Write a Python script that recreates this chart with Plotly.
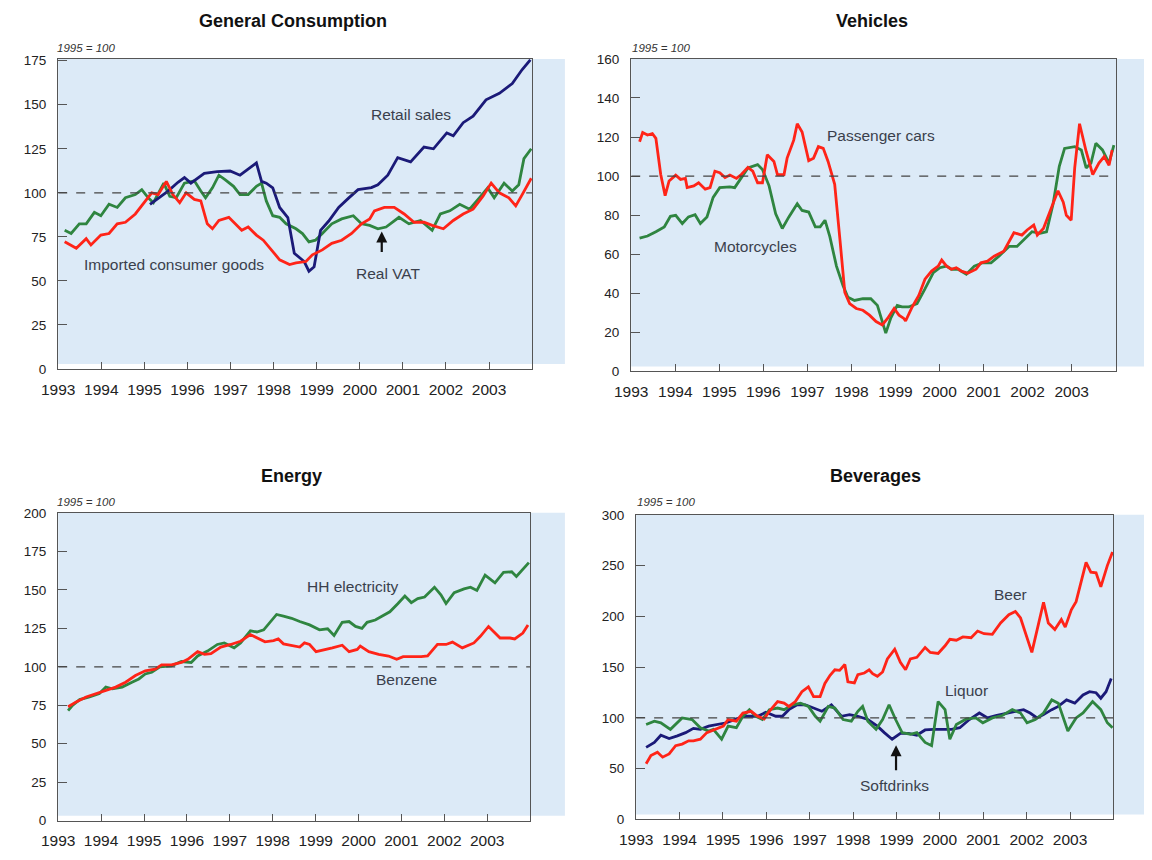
import plotly.graph_objects as go

# ---- data: (decimal year, index 1995 = 100) ----
retail_sales = [(1995.13, 93.5), (1995.32, 97), (1995.55, 101), (1995.78, 106), (1995.93, 108.7), (1996.08, 105.5),
                (1996.39, 111), (1996.69, 112), (1996.99, 112.4), (1997.22, 110), (1997.38, 113), (1997.60, 117),
                (1997.72, 106.5), (1997.83, 105.5), (1997.98, 102.8), (1998.14, 91.7), (1998.33, 86), (1998.48, 65.7),
                (1998.71, 61), (1998.82, 55.5), (1998.94, 58), (1999.09, 78.7), (1999.28, 84), (1999.51, 91.7),
                (1999.74, 97), (1999.96, 101.8), (2000.27, 103), (2000.42, 104.6), (2000.65, 110), (2000.88, 120),
                (2001.18, 117.6), (2001.49, 126), (2001.71, 125), (2002.02, 134), (2002.17, 132.4), (2002.40, 139.8),
                (2002.63, 143.5), (2002.93, 152.8), (2003.24, 156.5), (2003.54, 162), (2003.77, 170), (2003.96, 175.5)]

real_vat = [(1993.15, 78.7), (1993.30, 76.9), (1993.49, 82.4), (1993.65, 82.4), (1993.84, 88.9), (1993.99, 87),
            (1994.18, 93.5), (1994.37, 91.7), (1994.56, 97.2), (1994.79, 99), (1994.94, 101.8), (1995.09, 97.2),
            (1995.21, 94.4), (1995.36, 101), (1995.45, 105.5), (1995.59, 98), (1995.74, 97.2), (1995.93, 105.5),
            (1996.16, 106.8), (1996.31, 101), (1996.42, 97.2), (1996.58, 102.8), (1996.73, 110), (1996.88, 107.4),
            (1997.07, 103.7), (1997.22, 99), (1997.41, 99), (1997.60, 103.7), (1997.72, 105.5), (1997.83, 95.4),
            (1997.98, 87), (1998.14, 86.1), (1998.29, 82.4), (1998.52, 79.6), (1998.67, 76.9), (1998.82, 72.2),
            (1998.97, 73.1), (1999.13, 76.9), (1999.35, 82.4), (1999.58, 85.2), (1999.85, 87), (2000.04, 82.4),
            (2000.23, 81.5), (2000.42, 79.6), (2000.61, 80.6), (2000.91, 86.1), (2001.14, 82.4), (2001.41, 84.3),
            (2001.68, 78.7), (2001.87, 88), (2002.09, 89.8), (2002.32, 93.5), (2002.55, 90.7), (2002.78, 97.2),
            (2002.97, 102.8), (2003.12, 97.2), (2003.35, 105.5), (2003.54, 101), (2003.69, 104.6), (2003.81, 119.4),
            (2003.98, 125)]

imported_goods = [(1993.15, 72.2), (1993.27, 70.4), (1993.42, 68.5), (1993.65, 74), (1993.76, 70.4), (1993.99, 76),
                  (1994.18, 76.9), (1994.37, 82.4), (1994.56, 83.3), (1994.79, 88), (1995.02, 95.4), (1995.17, 100),
                  (1995.32, 99), (1995.51, 106.5), (1995.66, 99), (1995.82, 94.4), (1995.97, 100), (1996.16, 96.3),
                  (1996.31, 95.4), (1996.46, 82.4), (1996.58, 79.6), (1996.73, 84.3), (1996.96, 86.1), (1997.11, 82.4),
                  (1997.26, 78.7), (1997.41, 80.6), (1997.60, 76), (1997.76, 73.1), (1997.91, 68.5), (1998.14, 62),
                  (1998.37, 59.3), (1998.52, 60.2), (1998.75, 61), (1998.90, 64.8), (1999.13, 67.6), (1999.35, 71.3),
                  (1999.58, 73.1), (1999.81, 76.9), (2000.04, 82.4), (2000.23, 85.2), (2000.34, 89.8), (2000.57, 91.7),
                  (2000.80, 91.7), (2001.03, 88), (2001.26, 83.3), (2001.49, 83.3), (2001.68, 81.5), (2001.94, 79.6),
                  (2002.17, 84.3), (2002.40, 88), (2002.63, 90.7), (2002.86, 98.1), (2003.05, 105.5), (2003.24, 100),
                  (2003.46, 97.2), (2003.62, 92.6), (2003.77, 99), (2003.98, 108.3)]

passenger_cars = [(1993.19, 117.6), (1993.26, 122.3), (1993.37, 121), (1993.48, 121.8), (1993.56, 119.3), (1993.67, 100.8),
                  (1993.77, 90), (1993.86, 97.5), (1994.01, 100.5), (1994.12, 98.3), (1994.23, 98.8), (1994.27, 94.1),
                  (1994.42, 95), (1994.53, 96.6), (1994.68, 93.3), (1994.79, 94.1), (1994.90, 102.5), (1995.01, 101.7),
                  (1995.13, 99.2), (1995.24, 100.5), (1995.39, 98.8), (1995.50, 100.8), (1995.65, 104.5), (1995.76, 102.5),
                  (1995.87, 96.6), (1995.98, 96.6), (1996.09, 110.9), (1996.24, 107.5), (1996.32, 100.8), (1996.47, 100.8),
                  (1996.54, 109.2), (1996.69, 118.4), (1996.77, 126.8), (1996.88, 122.6), (1997.03, 107.9), (1997.14, 109.2),
                  (1997.25, 115.1), (1997.36, 114.2), (1997.47, 107.5), (1997.62, 95.8), (1997.74, 67.3), (1997.85, 40.5),
                  (1997.96, 34.7), (1998.11, 32.2), (1998.26, 31.3), (1998.41, 28.8), (1998.56, 25.5), (1998.70, 23.8),
                  (1998.82, 27.1), (1998.97, 32.2), (1999.08, 28.8), (1999.19, 27.1), (1999.23, 25.8), (1999.38, 33),
                  (1999.53, 38.9), (1999.67, 47.2), (1999.82, 51.4), (1999.97, 53.9), (2000.05, 57), (2000.16, 53.9),
                  (2000.27, 52.3), (2000.38, 53.1), (2000.49, 51.4), (2000.64, 50.3), (2000.83, 52.3), (2000.94, 55.6),
                  (2001.09, 56.4), (2001.24, 59), (2001.46, 61.5), (2001.58, 66.5), (2001.69, 71), (2001.87, 69.8),
                  (2001.99, 72.4), (2002.14, 74.9), (2002.22, 69.8), (2002.36, 73.2), (2002.51, 81.6), (2002.69, 92.5),
                  (2002.81, 86.6), (2002.88, 79.9), (2002.99, 77.4), (2003.07, 104.2), (2003.18, 126.8), (2003.33, 112.6),
                  (2003.48, 100.8), (2003.62, 106.7), (2003.74, 110), (2003.85, 105.5), (2003.92, 113.4)]

motorcycles = [(1993.19, 68.2), (1993.37, 69.3), (1993.56, 71.5), (1993.75, 74), (1993.89, 79.4), (1994.01, 79.9),
               (1994.16, 75.7), (1994.30, 79.1), (1994.45, 80.2), (1994.57, 75.7), (1994.72, 79.1), (1994.86, 89.1),
               (1995.01, 94.1), (1995.24, 94.5), (1995.35, 94.1), (1995.50, 99.2), (1995.65, 104.2), (1995.87, 105.9),
               (1995.98, 103.4), (1996.13, 95), (1996.28, 80.7), (1996.43, 73.2), (1996.58, 79.1), (1996.77, 85.8),
               (1996.88, 82.4), (1997.03, 81.6), (1997.18, 74), (1997.29, 74), (1997.40, 77.4), (1997.51, 69),
               (1997.66, 53.9), (1997.81, 43.9), (1997.92, 38), (1998.07, 36.3), (1998.26, 37.2), (1998.44, 37.2),
               (1998.59, 33.8), (1998.78, 19.6), (1998.89, 27.1), (1999.04, 33.8), (1999.15, 33), (1999.30, 33),
               (1999.49, 34.7), (1999.67, 42.2), (1999.86, 50.6), (2000.01, 53.1), (2000.16, 53.9), (2000.27, 52.3),
               (2000.42, 52.3), (2000.61, 49.7), (2000.79, 53.9), (2000.98, 55.6), (2001.17, 55.6), (2001.35, 59),
               (2001.58, 64), (2001.76, 64), (2001.91, 67.3), (2002.10, 71.5), (2002.28, 70.7), (2002.43, 71.5),
               (2002.58, 85.8), (2002.72, 105), (2002.84, 114.2), (2003.07, 115.1), (2003.22, 113.4), (2003.33, 104.2),
               (2003.44, 106.7), (2003.55, 116.8), (2003.70, 113.4), (2003.85, 106.7), (2003.96, 115.9)]

hh_electricity = [(1993.23, 71.5), (1993.34, 75.1), (1993.50, 78.7), (1993.73, 80.4), (1993.96, 82.6), (1994.11, 86.8),
                  (1994.26, 85.7), (1994.49, 86.8), (1994.72, 90), (1994.88, 92.1), (1995.03, 95.3), (1995.18, 96.4),
                  (1995.37, 100), (1995.64, 100.6), (1995.87, 103.4), (1996.10, 102.8), (1996.25, 107), (1996.48, 110.2),
                  (1996.71, 114.5), (1996.87, 115.5), (1997.10, 112.3), (1997.25, 115.5), (1997.48, 123.4), (1997.63, 122.6),
                  (1997.79, 124), (1998.09, 134), (1998.25, 132.9), (1998.44, 131.5), (1998.63, 129.4), (1998.86, 127.2),
                  (1999.09, 124), (1999.28, 124.7), (1999.43, 120.4), (1999.62, 128.9), (1999.78, 129.4), (1999.93, 126.2),
                  (2000.08, 125), (2000.20, 128.9), (2000.39, 130.4), (2000.54, 132.6), (2000.73, 135.7), (2000.92, 141.1),
                  (2001.08, 146), (2001.23, 141.7), (2001.38, 144.3), (2001.54, 145.3), (2001.77, 151.7), (2001.92, 146.8),
                  (2002.04, 141.1), (2002.23, 148.1), (2002.46, 150.6), (2002.61, 151.7), (2002.76, 149.6), (2002.95, 159.6),
                  (2003.18, 154.5), (2003.38, 161.3), (2003.57, 161.7), (2003.68, 158.7), (2003.83, 163.4), (2003.97, 167.7)]

benzene = [(1993.23, 74), (1993.42, 77.2), (1993.65, 80.4), (1993.88, 82.6), (1994.11, 85.1), (1994.34, 86.8),
           (1994.57, 90), (1994.80, 94.3), (1995.03, 97.4), (1995.26, 98.5), (1995.41, 101.3), (1995.64, 101.3),
           (1995.87, 102.8), (1996.02, 104.9), (1996.25, 109.8), (1996.41, 108.1), (1996.56, 108.5), (1996.79, 112.8),
           (1997.02, 114.5), (1997.25, 116.6), (1997.48, 120.9), (1997.63, 118.7), (1997.82, 116.2), (1998.02, 117),
           (1998.13, 118.1), (1998.25, 114.9), (1998.44, 114), (1998.63, 112.8), (1998.74, 115.5), (1998.86, 114.5),
           (1999.01, 109.8), (1999.20, 111.3), (1999.39, 112.3), (1999.62, 114), (1999.78, 109.8), (1999.97, 111.3),
           (2000.04, 113.4), (2000.24, 109.8), (2000.47, 108.1), (2000.70, 107), (2000.89, 104.9), (2001.04, 106.6),
           (2001.23, 106.4), (2001.46, 106.6), (2001.61, 107), (2001.84, 114.5), (2002.04, 114.5), (2002.19, 116),
           (2002.42, 112.3), (2002.69, 115.5), (2002.84, 119.8), (2003.03, 126.2), (2003.30, 118.7), (2003.53, 118.7),
           (2003.64, 118.1), (2003.83, 121.9), (2003.95, 127.2)]

beer = [(1993.23, 54.8), (1993.34, 62.9), (1993.49, 66.1), (1993.61, 61.3), (1993.76, 64.5), (1993.91, 72.6),
        (1994.06, 74.2), (1994.21, 77.4), (1994.32, 77.4), (1994.48, 79), (1994.63, 85.5), (1994.82, 88.7),
        (1995.01, 91.9), (1995.12, 98.4), (1995.31, 96.8), (1995.46, 104.8), (1995.65, 106.5), (1995.80, 101.6),
        (1995.95, 99), (1996.07, 106.5), (1996.26, 116.1), (1996.41, 114.5), (1996.52, 111.3), (1996.67, 116.1),
        (1996.82, 125.8), (1996.97, 130.6), (1997.09, 121), (1997.24, 121), (1997.35, 133.9), (1997.47, 141.9),
        (1997.58, 147.4), (1997.69, 146.8), (1997.81, 152.6), (1997.88, 135.5), (1998.03, 134.5), (1998.11, 142.6),
        (1998.26, 144.2), (1998.37, 147.4), (1998.45, 143.5), (1998.56, 141), (1998.68, 145.2), (1998.79, 158.1),
        (1998.96, 167.7), (1999.09, 154.8), (1999.21, 147.4), (1999.32, 158.1), (1999.47, 159.7), (1999.66, 169.4),
        (1999.78, 164.5), (1999.96, 163.5), (2000.12, 171), (2000.23, 177.4), (2000.38, 176.5), (2000.53, 179.7),
        (2000.72, 179), (2000.87, 185.5), (2001.02, 182.9), (2001.21, 182.3), (2001.40, 193.5), (2001.59, 201.6),
        (2001.74, 204.8), (2001.86, 198.4), (2002.12, 164.5), (2002.27, 191.9), (2002.39, 213.9), (2002.50, 193.5),
        (2002.65, 187.1), (2002.80, 196.8), (2002.89, 189.4), (2003.03, 206.5), (2003.14, 214.5), (2003.37, 253.2),
        (2003.48, 243.5), (2003.60, 242.9), (2003.71, 229), (2003.86, 250), (2003.98, 263.5)]

liquor = [(1993.23, 71), (1993.42, 75.8), (1993.57, 82.9), (1993.76, 79.7), (1993.95, 82.3), (1994.14, 85.5),
          (1994.32, 89.7), (1994.48, 88.7), (1994.67, 91.9), (1994.85, 93.5), (1995.08, 95.2), (1995.31, 99),
          (1995.54, 101.6), (1995.80, 101.6), (1995.99, 105.5), (1996.22, 101.6), (1996.37, 101.6), (1996.52, 108.1),
          (1996.71, 112.9), (1996.90, 112.9), (1997.09, 109.7), (1997.28, 106.5), (1997.50, 112.9), (1997.73, 101.6),
          (1997.92, 103.2), (1998.11, 101.6), (1998.34, 98.4), (1998.56, 91.9), (1998.72, 85.5), (1998.90, 79),
          (1999.09, 84.8), (1999.28, 84.8), (1999.47, 82.9), (1999.66, 88.1), (1999.85, 88.7), (2000.08, 88.7),
          (2000.27, 88.7), (2000.46, 90.3), (2000.68, 98.4), (2000.91, 104.8), (2001.10, 100), (2001.29, 102.3),
          (2001.52, 104.8), (2001.74, 106.5), (2001.93, 108.1), (2002.08, 104.8), (2002.24, 100), (2002.39, 103.2),
          (2002.58, 108.1), (2002.73, 111.3), (2002.92, 117.7), (2003.11, 114.5), (2003.30, 122.6), (2003.45, 125.8),
          (2003.60, 124.8), (2003.71, 119.4), (2003.83, 125.8), (2003.95, 138.7)]

softdrinks = [(1993.23, 93.5), (1993.42, 96.8), (1993.57, 95.2), (1993.79, 88.7), (1994.06, 100), (1994.29, 98.4),
              (1994.48, 90.3), (1994.67, 87.1), (1994.78, 88.7), (1994.97, 79), (1995.12, 91.9), (1995.31, 90.3),
              (1995.46, 101.6), (1995.61, 108.1), (1995.76, 101.6), (1995.91, 98.4), (1996.07, 108.1), (1996.26, 109.7),
              (1996.41, 108.1), (1996.60, 112.9), (1996.79, 114.5), (1996.97, 111.3), (1997.13, 101.6), (1997.24, 96.8),
              (1997.43, 111.3), (1997.58, 109.7), (1997.77, 98.4), (1997.96, 96.8), (1998.11, 106.5), (1998.22, 111.3),
              (1998.34, 96.8), (1998.53, 88.7), (1998.68, 98.4), (1998.83, 112.9), (1998.98, 98.4), (1999.13, 85.5),
              (1999.32, 83.9), (1999.47, 85.5), (1999.66, 75.8), (1999.81, 72.6), (1999.96, 116.1), (2000.12, 108.1),
              (2000.23, 79), (2000.38, 93.5), (2000.61, 99), (2000.83, 100), (2000.99, 95.2), (2001.21, 100),
              (2001.44, 102.3), (2001.67, 108.1), (2001.86, 104.8), (2002.01, 95.2), (2002.20, 98.4), (2002.39, 104.8),
              (2002.58, 117.7), (2002.73, 114.5), (2002.95, 87.1), (2003.14, 100), (2003.30, 104.8), (2003.52, 116.1),
              (2003.71, 108.1), (2003.86, 95.2), (2003.98, 90.3)]

years = list(range(1993, 2004))

RED = '#ff2418'
GREEN = '#2f8540'
NAVY = '#1b1a78'
BLUE_BG = '#dceaf7'
FONT = 'Liberation Sans, Arial, sans-serif'
W, H = 1152, 860
OFF = 8  # page body margin, figure is drawn 8px right/down


def px_x(x):
    return (x - OFF) / W


def px_y(y):
    return 1 - (y - OFF) / H


# panel geometry in screen pixels: plot left/right, top/bottom, right edge of blue band
panels = [
    dict(title='General Consumption', tx=280, ty=14, lx=38, ly=42,
         px=(41.7, 522.7), py=(52.7, 368.3), ext=556, yrange=[0, 176], dtick=25,
         series=[(real_vat, GREEN), (retail_sales, NAVY), (imported_goods, RED)]),
    dict(title='Vehicles', tx=868, ty=14, lx=622, ly=42,
         px=(623.3, 1115), py=(52.7, 370.7), ext=1160, yrange=[0, 160], dtick=20,
         series=[(motorcycles, GREEN), (passenger_cars, RED)]),
    dict(title='Energy', tx=278, ty=477, lx=38, ly=504,
         px=(41.7, 520.7), py=(514.7, 828), ext=556, yrange=[0, 200], dtick=25,
         series=[(hh_electricity, GREEN), (benzene, RED)]),
    dict(title='Beverages', tx=871, ty=477, lx=627, ly=504,
         px=(628.3, 1112.7), py=(516.7, 826.7), ext=1160, yrange=[0, 300], dtick=50,
         series=[(liquor, NAVY), (softdrinks, GREEN), (beer, RED)]),
]

fig = go.Figure()
shapes = []
annotations = []

for i, p in enumerate(panels, start=1):
    sfx = '' if i == 1 else str(i)
    xd = [px_x(p['px'][0]), px_x(p['px'][1])]
    yd = [px_y(p['py'][1]), px_y(p['py'][0])]
    for data, color in p['series']:
        fig.add_trace(go.Scatter(
            x=[d[0] for d in data], y=[d[1] for d in data],
            mode='lines', line=dict(color=color, width=2.8),
            xaxis='x' + sfx, yaxis='y' + sfx, showlegend=False, hoverinfo='skip'))
    fig.update_layout(**{
        'xaxis' + sfx: dict(
            domain=xd, anchor='y' + sfx, range=[1993, 2004],
            tickmode='array', tickvals=years, ticktext=[str(y) for y in years],
            ticks='inside', ticklen=7, tickcolor='#555', tickwidth=1.2,
            showline=True, mirror=True, linecolor='#555', linewidth=1.3,
            showgrid=False, zeroline=False, ticklabelstandoff=6,
            tickfont=dict(family=FONT, size=15.5, color='#222')),
        'yaxis' + sfx: dict(
            domain=yd, anchor='x' + sfx, range=p['yrange'], dtick=p['dtick'], tick0=0,
            ticks='inside', ticklen=9, tickcolor='#555', tickwidth=1.2,
            showline=True, mirror=True, linecolor='#555', linewidth=1.3,
            showgrid=False, zeroline=False, ticklabelstandoff=8,
            tickfont=dict(family=FONT, size=13.5, color='#222')),
    })
    # blue background band (extends right of the plot frame)
    shapes.append(dict(type='rect', xref='paper', yref='paper', layer='below',
                       x0=xd[0], x1=px_x(p['ext']), y0=px_y(p['py'][1] - 5), y1=yd[1],
                       fillcolor=BLUE_BG, line=dict(width=0)))
    # 1995 = 100 reference line
    shapes.append(dict(type='line', xref='x' + sfx, yref='y' + sfx, x0=1993, x1=2004, y0=100, y1=100,
                       line=dict(color='#444', width=1.2, dash='dash')))
    annotations.append(dict(text='<b>' + p['title'] + '</b>', xref='paper', yref='paper',
                            x=px_x(p['tx']), y=px_y(p['ty']), showarrow=False,
                            xanchor='center', yanchor='middle',
                            font=dict(family=FONT, size=18, color='#111')))
    annotations.append(dict(text='<i>1995 = 100</i>', xref='paper', yref='paper',
                            x=px_x(p['lx']), y=px_y(p['ly']), showarrow=False,
                            xanchor='left', yanchor='middle',
                            font=dict(family=FONT, size=11.5, color='#333')))

# series labels
labels = [
    ('Retail sales', '', 2001.20, 144.6),
    ('Imported consumer goods', '', 1995.68, 59.6),
    ('Real VAT', '', 2000.67, 54.1),
    ('Passenger cars', '2', 1998.68, 121),
    ('Motorcycles', '2', 1995.82, 64.1),
    ('HH electricity', '3', 1999.86, 151.9),
    ('Benzene', '3', 2001.12, 91.9),
    ('Beer', '4', 2001.62, 221.3),
    ('Liquor', '4', 2000.62, 126.5),
    ('Softdrinks', '4', 1998.96, 33.6),
]
for text, sfx, lx, ly in labels:
    annotations.append(dict(text=text, xref='x' + sfx, yref='y' + sfx, x=lx, y=ly,
                            showarrow=False, xanchor='center', yanchor='middle',
                            font=dict(family=FONT, size=15.5, color='#3a3f4c')))

# arrows pointing at Real VAT and Softdrinks
annotations.append(dict(text='', xref='x', yref='y', axref='x', ayref='y',
                        x=2000.51, y=78, ax=2000.51, ay=65.5, showarrow=True,
                        arrowhead=2, arrowsize=1, arrowwidth=2.2, arrowcolor='#111'))
annotations.append(dict(text='', xref='x4', yref='y4', axref='x4', ayref='y4',
                        x=1998.99, y=73, ax=1998.99, ay=47, showarrow=True,
                        arrowhead=2, arrowsize=1, arrowwidth=2.2, arrowcolor='#111'))

fig.update_layout(
    width=W, height=H,
    margin=dict(l=0, r=0, t=0, b=0),
    paper_bgcolor='white',
    plot_bgcolor='rgba(0,0,0,0)',
    shapes=shapes,
    annotations=annotations,
    font=dict(family=FONT),
)

fig.write_html("out.html")
